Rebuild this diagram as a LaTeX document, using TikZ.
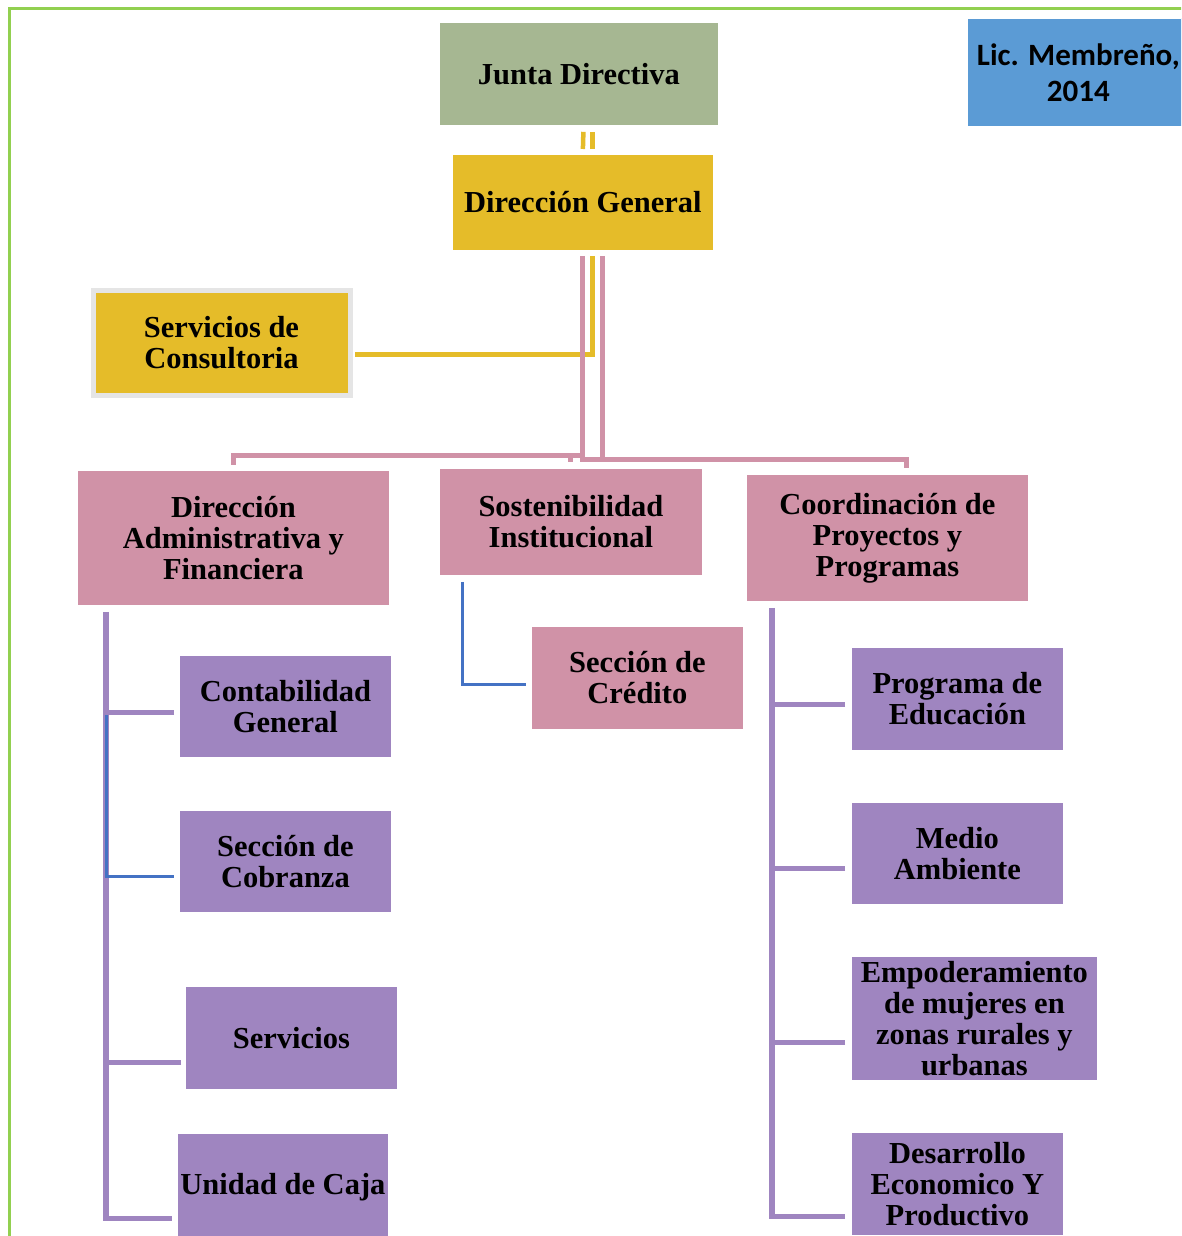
\documentclass[tikz,border=0pt]{standalone}
\usepackage{fontspec}
\setmainfont{Liberation Serif}
\newfontfamily\calib{Carlito}
\definecolor{sage}{HTML}{A6B792}
\definecolor{gold}{HTML}{E5BC29}
\definecolor{rose}{HTML}{D092A7}
\definecolor{lila}{HTML}{9F85C0}
\definecolor{skyb}{HTML}{5B9BD5}
\definecolor{bline}{HTML}{4472C4}
\definecolor{frameg}{HTML}{92D050}
\begin{document}
\begin{tikzpicture}[x=1pt,y=-1pt,
  box/.style={rectangle, inner sep=0pt, align=center, anchor=north west, text=black,
    font=\fontsize{30.5}{31}\selectfont\bfseries, draw=white, line width=0.8pt},
  pinkline/.style={draw=rose, line width=5pt},
  goldline/.style={draw=gold, line width=5pt},
  lilaline/.style={draw=lila, line width=5.5pt},
  blueline/.style={draw=bline, line width=3pt}]
\useasboundingbox (0,0) rectangle (1181,1236);
\clip (0,0) rectangle (1181,1236);
% frame
\draw[frameg, line width=3pt] (9,1245) -- (9,9) -- (1195,9);
% nodes
\node[box, fill=sage, minimum width=279pt, minimum height=103pt] (jd) at (439,22) {Junta Directiva};
\node[box, fill=gold, minimum width=261pt, minimum height=96pt] (dg) at (452,154) {Dirección General};
\node[box, fill=gold, draw=black!10, line width=5pt, minimum width=257pt, minimum height=105pt] (sdc) at (90.5,287.5) {Servicios de\\Consultoria};
\node[box, fill=skyb, minimum width=222pt, minimum height=108pt,
  font=\calib\fontsize{31}{36}\selectfont\bfseries] (lic) at (967,18) {Lic. Membreño,\\2014};
\node[box, fill=rose, minimum width=312pt, minimum height=135pt] (daf) at (77,470) {Dirección\\Administrativa y\\Financiera};
\node[box, fill=rose, minimum width=263pt, minimum height=107pt] (sos) at (439,468) {Sostenibilidad\\Institucional};
\node[box, fill=rose, minimum width=282pt, minimum height=127pt] (cpp) at (746,474) {Coordinación de\\Proyectos y\\Programas};
\node[box, fill=rose, minimum width=212pt, minimum height=103pt] (scr) at (531,626) {Sección de\\Crédito};
\node[box, fill=lila, minimum width=212pt, minimum height=102pt] (cg) at (179,655) {Contabilidad\\General};
\node[box, fill=lila, minimum width=212pt, minimum height=102pt] (scb) at (179,810) {Sección de\\Cobranza};
\node[box, fill=lila, minimum width=212pt, minimum height=103pt] (srv) at (185,986) {Servicios};
\node[box, fill=lila, minimum width=211pt, minimum height=107pt] (udc) at (177,1133) {Unidad de Caja};
\node[box, fill=lila, minimum width=212pt, minimum height=103pt] (prg) at (851,647) {Programa de\\Educación};
\node[box, fill=lila, minimum width=212pt, minimum height=102pt] (med) at (851,802) {Medio\\Ambiente};
\node[box, fill=lila, minimum width=246pt, minimum height=124pt] (emp) at (851,956) {Empoderamiento\\de mujeres en\\zonas rurales y\\urbanas};
\node[box, fill=lila, minimum width=212pt, minimum height=103pt] (dep) at (851,1132) {Desarrollo\\Economico Y\\Productivo};
% Junta -> Direccion General (double gold line)
\draw[goldline, line width=4.5pt] ([xshift=4.5pt,yshift=-6pt]jd.south) -- ([yshift=5pt]dg.north);
\draw[goldline, line width=4.5pt] ([xshift=13.5pt,yshift=-6pt]jd.south) -- ([xshift=9.5pt,yshift=5pt]dg.north);
% Direccion General -> Consultoria
\draw[goldline] ([xshift=9.5pt,yshift=-5pt]dg.south) |- ([xshift=2.5pt,yshift=-12pt]sdc.east);
% Direccion General -> second level
\draw[pinkline] ([yshift=-5pt]dg.south) |- ([yshift=15pt]daf.north) -- ([yshift=5pt]daf.north);
\draw[pinkline] ([yshift=13pt]sos.north) -- ([yshift=6pt]sos.north);
\draw[pinkline] ([xshift=20pt,yshift=-5pt]dg.south) |- ([xshift=19pt,yshift=15pt]cpp.north) -- ([xshift=19pt,yshift=6pt]cpp.north);
\draw[pinkline] ([xshift=-2.5pt,yshift=-209pt]dg.south) -- ++(23,0);
% Sostenibilidad -> Credito
\draw[blueline] ([xshift=23pt,yshift=-6pt]sos.south west) |- ([xshift=-5pt,yshift=-6.5pt]scr.west);
% left column
\draw[lilaline] ([xshift=29pt,yshift=-6pt]daf.south west) |- ([xshift=-5pt,yshift=-31.5pt]udc.west);
\draw[lilaline] ([xshift=-5pt,yshift=-6pt]cg.west) -- ++(-71,0);
\draw[lilaline] ([xshift=-4pt,yshift=-24.5pt]srv.west) -- ++(-78,0);
\draw[blueline] ([xshift=-73pt,yshift=-9pt]cg.west) |- ([xshift=-5pt,yshift=-15pt]scb.west);
% right column
\draw[lilaline] ([xshift=26pt,yshift=-6pt]cpp.south west) |- ([xshift=-6pt,yshift=-32.5pt]dep.west);
\draw[lilaline] ([xshift=-6pt,yshift=-5.5pt]prg.west) -- ++(-76,0);
\draw[lilaline] ([xshift=-6pt,yshift=-15pt]med.west) -- ++(-76,0);
\draw[lilaline] ([xshift=-6pt,yshift=-24pt]emp.west) -- ++(-76,0);
\end{tikzpicture}
\end{document}
